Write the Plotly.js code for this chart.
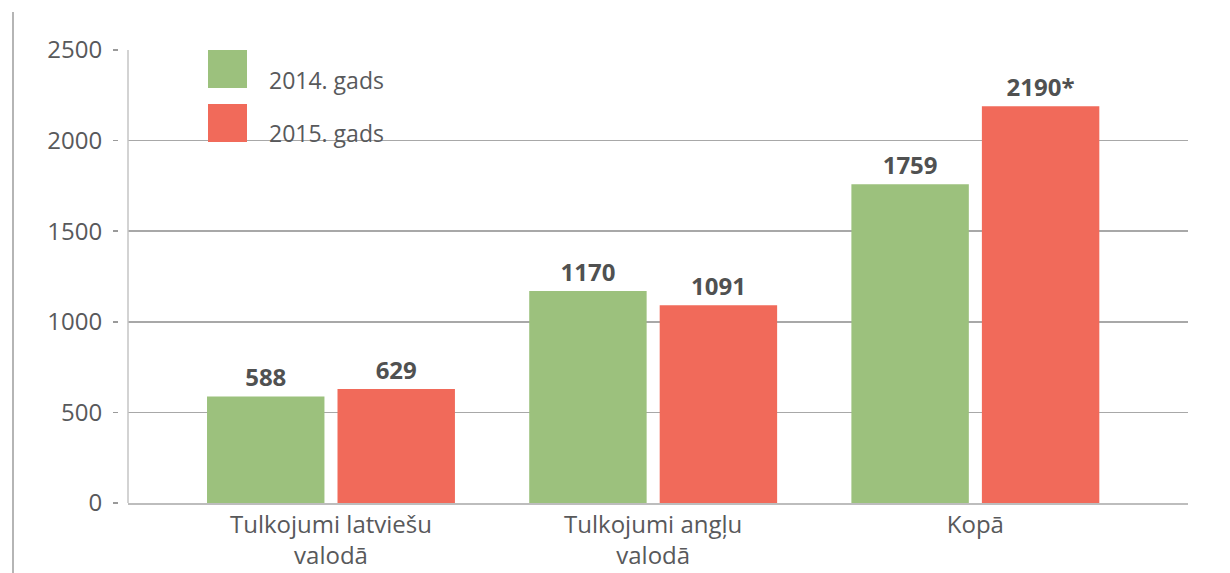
<!DOCTYPE html>
<html>
<head>
<meta charset="utf-8">
<script src="https://cdn.plot.ly/plotly-3.0.1.min.js"></script>
<style>html,body{margin:0;padding:0;background:#fff;}#chart{width:1230px;height:573px;}</style>
</head>
<body>
<div id="chart"></div>
<script>
const categories = ["Tulkojumi latviešu<br>valodā", "Tulkojumi angļu<br>valodā", "Kopā"];
const seriesNames = ["2014. gads", "2015. gads"];
const values2014 = [588, 1170, 1759];
const values2015 = [629, 1091, 2190];
const labelSuffix2015 = ["", "", "*"];
const yTicks = [0, 500, 1000, 1500, 2000, 2500];

const green = "#9CC17D";
const red = "#F16A5A";
const textGray = "#58595B";
const labelFont = {family: "Open Sans, sans-serif", size: 24, color: "#505151", weight: 700};

const traces = [
  {
    type: "bar", name: seriesNames[0], x: [0,1,2], y: values2014,
    marker: {color: green}, text: values2014.map(v => "<b>" + v + "</b>"),
    textposition: "outside", textfont: labelFont, cliponaxis: false, hoverinfo: "none"
  },
  {
    type: "bar", name: seriesNames[1], x: [0,1,2], y: values2015,
    marker: {color: red}, text: values2015.map((v,i) => "<b>" + v + labelSuffix2015[i] + "</b>"),
    textposition: "outside", textfont: labelFont, cliponaxis: false, hoverinfo: "none"
  }
];

const W = 1230, H = 573;
const L = 118, R = 1188, T = 50, B = 503;
const px = x => (x - L) / (R - L);
const py = y => (B - y) / (B - T);

const layout = {
  width: W, height: H,
  margin: {l: L, r: W - R, t: T, b: H - B, pad: 0},
  paper_bgcolor: "#fff", plot_bgcolor: "#fff",
  showlegend: false,
  barmode: "group", bargap: 0.19, bargroupgap: 0.1,
  font: {family: "Open Sans, sans-serif", size: 24, color: textGray},
  xaxis: {
    domain: [px(128), 1],
    range: [-0.63, 2.66],
    tickmode: "array", tickvals: [0,1,2], ticktext: categories,
    showgrid: false, zeroline: false,
    showline: true, linecolor: "#BDBDBD", linewidth: 2,
    ticks: "", ticklabelstandoff: -1, tickfont: {size: 24, color: textGray}
  },
  yaxis: {
    anchor: "free", position: 0,
    range: [0, 2500],
    tickmode: "array", tickvals: yTicks,
    showgrid: true, gridcolor: "#A8A8A8", gridwidth: 1.5,
    zeroline: false, showline: false,
    ticks: "outside", ticklen: 5, tickwidth: 1.5, tickcolor: "#9A9A9A",
    ticklabelstandoff: 6,
    tickfont: {size: 24, color: textGray}
  },
  shapes: [
    {type: "line", xref: "paper", yref: "paper", x0: px(128), x1: px(128), y0: 0, y1: 1,
     line: {color: "#C4C4C4", width: 1.5}},
    {type: "line", xref: "paper", yref: "paper", x0: px(13), x1: px(13), y0: py(12), y1: py(573),
     line: {color: "#B5B5B5", width: 2}},
    {type: "rect", xref: "paper", yref: "paper", x0: px(208), x1: px(247), y0: py(88), y1: py(50),
     fillcolor: green, line: {width: 0}},
    {type: "rect", xref: "paper", yref: "paper", x0: px(208), x1: px(247), y0: py(142), y1: py(104),
     fillcolor: red, line: {width: 0}}
  ],
  annotations: [
    {xref: "paper", yref: "paper", x: px(267), y: py(80), xanchor: "left", yanchor: "middle",
     text: seriesNames[0], showarrow: false, font: {size: 23, color: textGray}},
    {xref: "paper", yref: "paper", x: px(267), y: py(133), xanchor: "left", yanchor: "middle",
     text: seriesNames[1], showarrow: false, font: {size: 23, color: textGray}}
  ]
};

Plotly.newPlot("chart", traces, layout, {displayModeBar: false, staticPlot: true});
</script>
</body>
</html>
